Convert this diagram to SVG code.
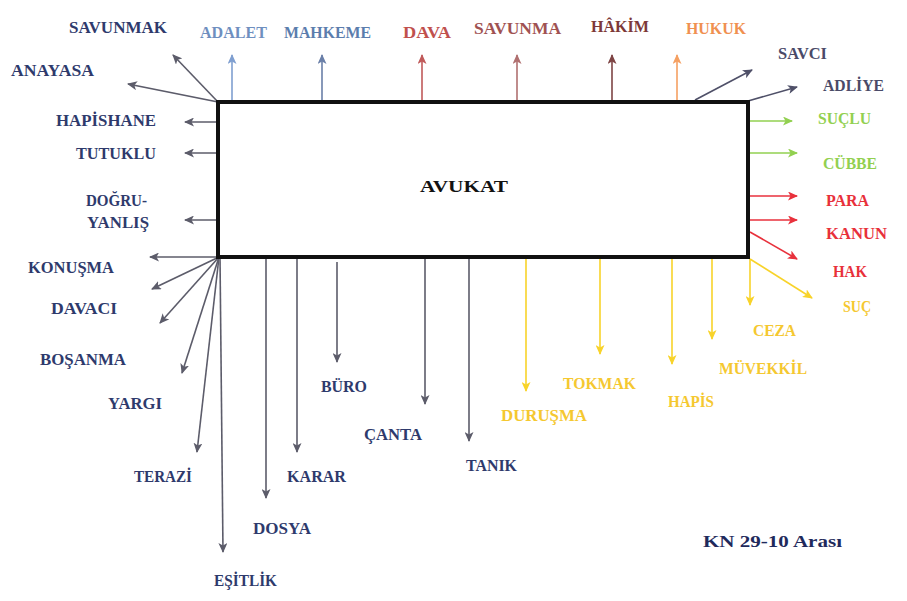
<svg xmlns="http://www.w3.org/2000/svg" width="907" height="601" viewBox="0 0 907 601">
<style>
text{font-family:"Liberation Serif","Times New Roman",serif;font-weight:bold;font-size:16px;}
.nv{fill:#2e3a6c}
.sl{fill:#4a4a68}
.lb{fill:#6f8fbf}
.mb{fill:#5b7dad}
.dr{fill:#c0504d}
.pk{fill:#a05252}
.br{fill:#7d3838}
.or{fill:#f09050}
.gr{fill:#92d050}
.rd{fill:#e8303a}
.yl{fill:#f5c830}
line{stroke-width:1.6;fill:none}
</style>
<defs>
<marker id="mg" markerUnits="userSpaceOnUse" markerWidth="11" markerHeight="9" refX="9" refY="4.5" orient="auto"><path d="M0,0 L10,4.5 L0,9 L2.5,4.5 z" fill="#5c5c6a"/></marker>
<marker id="mlb" markerUnits="userSpaceOnUse" markerWidth="11" markerHeight="9" refX="9" refY="4.5" orient="auto"><path d="M0,0 L10,4.5 L0,9 L2.5,4.5 z" fill="#7f9fd0"/></marker>
<marker id="mmb" markerUnits="userSpaceOnUse" markerWidth="11" markerHeight="9" refX="9" refY="4.5" orient="auto"><path d="M0,0 L10,4.5 L0,9 L2.5,4.5 z" fill="#6a7fa8"/></marker>
<marker id="mdr" markerUnits="userSpaceOnUse" markerWidth="11" markerHeight="9" refX="9" refY="4.5" orient="auto"><path d="M0,0 L10,4.5 L0,9 L2.5,4.5 z" fill="#c05a5a"/></marker>
<marker id="mpk" markerUnits="userSpaceOnUse" markerWidth="11" markerHeight="9" refX="9" refY="4.5" orient="auto"><path d="M0,0 L10,4.5 L0,9 L2.5,4.5 z" fill="#b07070"/></marker>
<marker id="mbr" markerUnits="userSpaceOnUse" markerWidth="11" markerHeight="9" refX="9" refY="4.5" orient="auto"><path d="M0,0 L10,4.5 L0,9 L2.5,4.5 z" fill="#7e4444"/></marker>
<marker id="mor" markerUnits="userSpaceOnUse" markerWidth="11" markerHeight="9" refX="9" refY="4.5" orient="auto"><path d="M0,0 L10,4.5 L0,9 L2.5,4.5 z" fill="#f5a062"/></marker>
<marker id="msl" markerUnits="userSpaceOnUse" markerWidth="11" markerHeight="9" refX="9" refY="4.5" orient="auto"><path d="M0,0 L10,4.5 L0,9 L2.5,4.5 z" fill="#4f5068"/></marker>
<marker id="mgr" markerUnits="userSpaceOnUse" markerWidth="11" markerHeight="9" refX="9" refY="4.5" orient="auto"><path d="M0,0 L10,4.5 L0,9 L2.5,4.5 z" fill="#92d050"/></marker>
<marker id="mrd" markerUnits="userSpaceOnUse" markerWidth="11" markerHeight="9" refX="9" refY="4.5" orient="auto"><path d="M0,0 L10,4.5 L0,9 L2.5,4.5 z" fill="#e8313c"/></marker>
<marker id="myl" markerUnits="userSpaceOnUse" markerWidth="11" markerHeight="9" refX="9" refY="4.5" orient="auto"><path d="M0,0 L10,4.5 L0,9 L2.5,4.5 z" fill="#f8d32a"/></marker>
</defs>
<rect width="907" height="601" fill="#ffffff"/>
<g id="connectors">
<g stroke="#5c5c6a" marker-end="url(#mg)">
<line x1="218" y1="102" x2="173" y2="55"/>
<line x1="218" y1="102" x2="128" y2="84"/>
<line x1="218" y1="122" x2="185" y2="122"/>
<line x1="218" y1="153" x2="185" y2="153"/>
<line x1="218" y1="220" x2="185" y2="220"/>
<line x1="218" y1="257" x2="150" y2="257"/>
<line x1="219" y1="257" x2="152" y2="289"/>
<line x1="219" y1="257" x2="160" y2="323"/>
<line x1="219" y1="257" x2="182" y2="373"/>
<line x1="219" y1="257" x2="197" y2="452"/>
<line x1="220" y1="257" x2="223" y2="552"/>
<line x1="266" y1="259" x2="266" y2="498"/>
<line x1="297" y1="259" x2="297" y2="452"/>
<line x1="337" y1="262" x2="337" y2="362"/>
<line x1="425" y1="259" x2="425" y2="404"/>
<line x1="469" y1="259" x2="469" y2="441"/>
</g>
<line x1="232" y1="100" x2="232" y2="55" stroke="#7f9fd0" marker-end="url(#mlb)"/>
<line x1="322" y1="100" x2="322" y2="55" stroke="#6a7fa8" marker-end="url(#mmb)"/>
<line x1="422" y1="100" x2="422" y2="55" stroke="#c05a5a" marker-end="url(#mdr)"/>
<line x1="517" y1="100" x2="517" y2="55" stroke="#b07070" marker-end="url(#mpk)"/>
<line x1="612" y1="100" x2="612" y2="55" stroke="#7e4444" marker-end="url(#mbr)"/>
<line x1="677" y1="100" x2="677" y2="55" stroke="#f5a062" marker-end="url(#mor)"/>
<line x1="695" y1="100" x2="752" y2="70" stroke="#4f5068" marker-end="url(#msl)"/>
<line x1="748" y1="101" x2="797" y2="87" stroke="#4f5068" marker-end="url(#msl)"/>
<line x1="750" y1="121" x2="792" y2="121" stroke="#92d050" marker-end="url(#mgr)"/>
<line x1="750" y1="153" x2="797" y2="153" stroke="#92d050" marker-end="url(#mgr)"/>
<line x1="750" y1="196" x2="797" y2="196" stroke="#e8313c" marker-end="url(#mrd)"/>
<line x1="750" y1="220" x2="797" y2="220" stroke="#e8313c" marker-end="url(#mrd)"/>
<line x1="750" y1="232" x2="797" y2="259" stroke="#e8313c" marker-end="url(#mrd)"/>
<g stroke="#f8d32a" marker-end="url(#myl)">
<line x1="750" y1="259" x2="812" y2="298"/>
<line x1="750" y1="259" x2="750" y2="305"/>
<line x1="712" y1="259" x2="712" y2="339"/>
<line x1="672" y1="259" x2="672" y2="364"/>
<line x1="600" y1="259" x2="600" y2="354"/>
<line x1="526" y1="259" x2="526" y2="391"/>
</g>
</g>
<g id="avukat">
<rect x="218" y="102" width="530" height="155" fill="#ffffff" stroke="#111111" stroke-width="4"/>
<text x="420" y="192" font-size="19" fill="#111111" textLength="88" lengthAdjust="spacingAndGlyphs">AVUKAT</text>
</g>
<g id="labels">
<text id="savunmak" class="nv" x="69" y="33" textLength="98" lengthAdjust="spacingAndGlyphs">SAVUNMAK</text>
<text id="adalet" class="lb" x="200" y="38" textLength="67" lengthAdjust="spacingAndGlyphs">ADALET</text>
<text id="mahkeme" class="mb" x="284" y="38" textLength="87" lengthAdjust="spacingAndGlyphs">MAHKEME</text>
<text id="dava" class="dr" x="403" y="38" textLength="48" lengthAdjust="spacingAndGlyphs">DAVA</text>
<text id="savunma" class="pk" x="474" y="34" textLength="87" lengthAdjust="spacingAndGlyphs">SAVUNMA</text>
<text id="hakim" class="br" x="591" y="32" textLength="58" lengthAdjust="spacingAndGlyphs">HÂKİM</text>
<text id="hukuk" class="or" x="686" y="34" textLength="60" lengthAdjust="spacingAndGlyphs">HUKUK</text>
<text id="savci" class="sl" x="778" y="59" textLength="49" lengthAdjust="spacingAndGlyphs">SAVCI</text>
<text id="adliye" class="sl" x="823" y="91" textLength="61" lengthAdjust="spacingAndGlyphs">ADLİYE</text>
<text id="suclu" class="gr" x="818" y="124" textLength="53" lengthAdjust="spacingAndGlyphs">SUÇLU</text>
<text id="cubbe" class="gr" x="823" y="169" textLength="54" lengthAdjust="spacingAndGlyphs">CÜBBE</text>
<text id="para" class="rd" x="826" y="206" textLength="43" lengthAdjust="spacingAndGlyphs">PARA</text>
<text id="kanun" class="rd" x="826" y="239" textLength="61" lengthAdjust="spacingAndGlyphs">KANUN</text>
<text id="hak" class="rd" x="833" y="277" textLength="34" lengthAdjust="spacingAndGlyphs">HAK</text>
<text id="suc" class="yl" x="843" y="312" textLength="28" lengthAdjust="spacingAndGlyphs">SUÇ</text>
<text id="ceza" class="yl" x="753" y="336" textLength="43" lengthAdjust="spacingAndGlyphs">CEZA</text>
<text id="muvekkil" class="yl" x="719" y="374" textLength="88" lengthAdjust="spacingAndGlyphs">MÜVEKKİL</text>
<text id="hapis" class="yl" x="668" y="407" textLength="46" lengthAdjust="spacingAndGlyphs">HAPİS</text>
<text id="tokmak" class="yl" x="563" y="389" textLength="73" lengthAdjust="spacingAndGlyphs">TOKMAK</text>
<text id="durusma" class="yl" x="501" y="421" textLength="86" lengthAdjust="spacingAndGlyphs">DURUŞMA</text>
<text id="tanik" class="nv" x="466" y="471" textLength="51" lengthAdjust="spacingAndGlyphs">TANIK</text>
<text id="canta" class="nv" x="364" y="440" textLength="58" lengthAdjust="spacingAndGlyphs">ÇANTA</text>
<text id="buro" class="nv" x="321" y="392" textLength="46" lengthAdjust="spacingAndGlyphs">BÜRO</text>
<text id="karar" class="nv" x="287" y="482" textLength="59" lengthAdjust="spacingAndGlyphs">KARAR</text>
<text id="dosya" class="nv" x="253" y="534" textLength="58" lengthAdjust="spacingAndGlyphs">DOSYA</text>
<text id="esitlik" class="nv" x="214" y="586" textLength="63" lengthAdjust="spacingAndGlyphs">EŞİTLİK</text>
<text id="terazi" class="nv" x="134" y="482" textLength="58" lengthAdjust="spacingAndGlyphs">TERAZİ</text>
<text id="yargi" class="nv" x="108" y="409" textLength="54" lengthAdjust="spacingAndGlyphs">YARGI</text>
<text id="bosanma" class="nv" x="40" y="365" textLength="86" lengthAdjust="spacingAndGlyphs">BOŞANMA</text>
<text id="davaci" class="nv" x="51" y="314" textLength="66" lengthAdjust="spacingAndGlyphs">DAVACI</text>
<text id="konusma" class="nv" x="28" y="273" textLength="86" lengthAdjust="spacingAndGlyphs">KONUŞMA</text>
<text id="dogru" class="nv" x="86" y="206" textLength="61" lengthAdjust="spacingAndGlyphs">DOĞRU-</text>
<text id="yanlis" class="nv" x="87" y="228" textLength="62" lengthAdjust="spacingAndGlyphs">YANLIŞ</text>
<text id="tutuklu" class="nv" x="76" y="159" textLength="80" lengthAdjust="spacingAndGlyphs">TUTUKLU</text>
<text id="hapishane" class="nv" x="56" y="126" textLength="100" lengthAdjust="spacingAndGlyphs">HAPİSHANE</text>
<text id="anayasa" class="nv" x="11" y="76" textLength="83" lengthAdjust="spacingAndGlyphs">ANAYASA</text>
<text id="kn" x="703" y="547" font-size="19" fill="#1f2a5c" textLength="139" lengthAdjust="spacingAndGlyphs">KN 29-10 Arası</text>
</g>
</svg>
